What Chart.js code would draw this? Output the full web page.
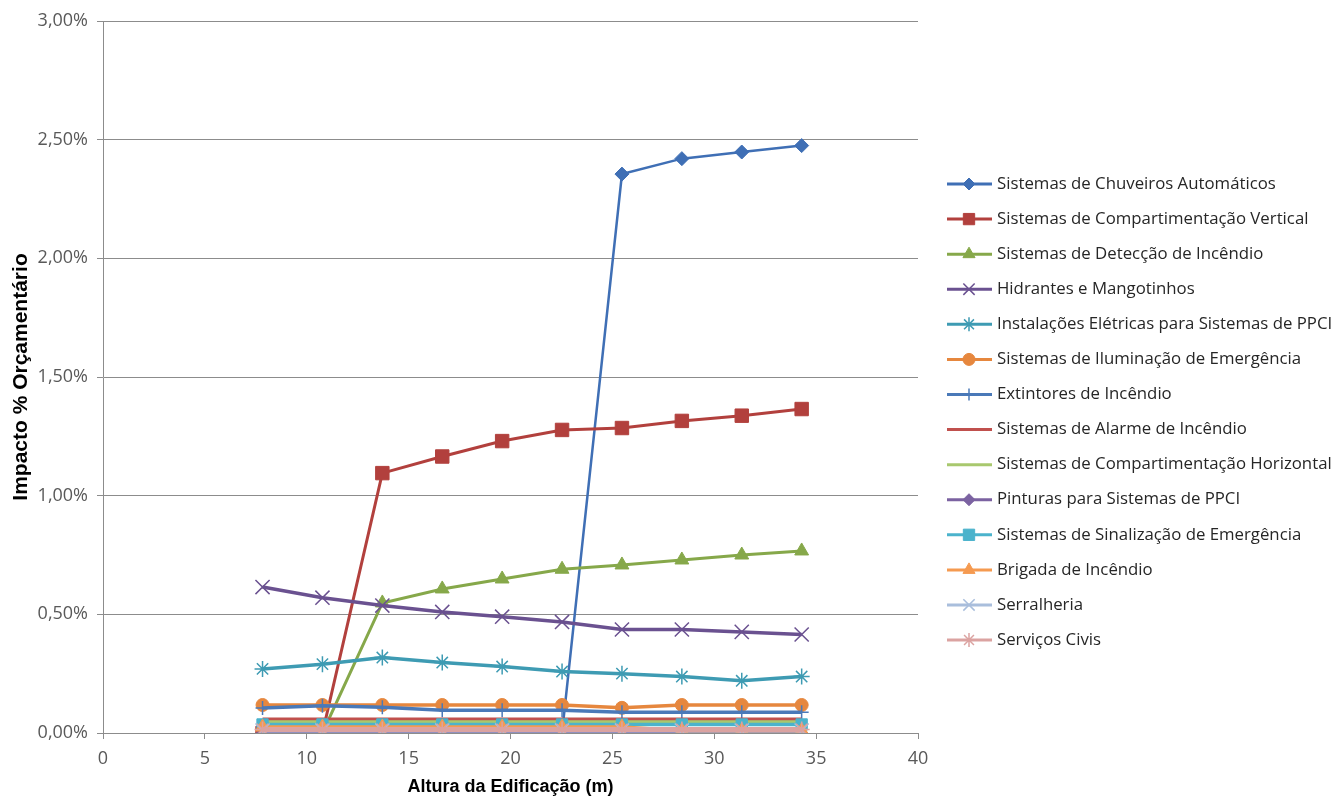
<!DOCTYPE html>
<html>
<head>
<meta charset="utf-8">
<script src="https://cdn.jsdelivr.net/npm/chart.js@4.4.1/dist/chart.umd.min.js"></script>
<style>
  html, body { margin: 0; padding: 0; background: #fff; }
  #wrap { width: 1335px; height: 798px; position: relative; }
</style>
</head>
<body>
<div id="wrap"><canvas id="chart"></canvas></div>
<script>
// Building height (m)
const alturas = [7.83, 10.77, 13.71, 16.65, 19.59, 22.53, 25.47, 28.41, 31.35, 34.29];

// Budget impact (%) per system
const chuveiros      = [0, 0, 0, 0, 0, 0, 2.355, 2.42, 2.448, 2.475];
const compVertical   = [0, 0, 1.095, 1.165, 1.23, 1.277, 1.285, 1.315, 1.337, 1.365];
const deteccao       = [0, 0, 0.548, 0.607, 0.649, 0.69, 0.708, 0.729, 0.75, 0.767];
const hidrantes      = [0.615, 0.57, 0.537, 0.51, 0.49, 0.468, 0.436, 0.436, 0.426, 0.415];
const instEletricas  = [0.27, 0.29, 0.318, 0.297, 0.28, 0.259, 0.25, 0.238, 0.22, 0.238];
const iluminacao     = [0.118, 0.118, 0.118, 0.118, 0.118, 0.118, 0.106, 0.118, 0.118, 0.118];
const extintores     = [0.105, 0.115, 0.108, 0.096, 0.096, 0.096, 0.087, 0.087, 0.087, 0.087];
const alarme         = [0.058, 0.058, 0.058, 0.058, 0.058, 0.058, 0.058, 0.058, 0.058, 0.058];
const compHorizontal = [0.046, 0.046, 0.046, 0.046, 0.046, 0.046, 0.046, 0.046, 0.046, 0.046];
const pinturas       = [0, 0, 0, 0, 0, 0, 0, 0, 0, 0];
const sinalizacao    = [0.036, 0.036, 0.036, 0.036, 0.036, 0.036, 0.036, 0.036, 0.036, 0.036];
const brigada        = [0.025, 0.025, 0.025, 0.025, 0.025, 0.025, 0.025, 0.01, 0.01, 0.01];
const serralheria    = [0.01, 0.01, 0.01, 0.01, 0.01, 0.01, 0.01, 0.01, 0.01, 0.01];
const servicosCivis  = [0.015, 0.015, 0.015, 0.015, 0.015, 0.015, 0.015, 0.015, 0.015, 0.015];

const seriesNames = [
  'Sistemas de Chuveiros Automáticos',
  'Sistemas de Compartimentação Vertical',
  'Sistemas de Detecção de Incêndio',
  'Hidrantes e Mangotinhos',
  'Instalações Elétricas para Sistemas de PPCI',
  'Sistemas de Iluminação de Emergência',
  'Extintores de Incêndio',
  'Sistemas de Alarme de Incêndio',
  'Sistemas de Compartimentação Horizontal',
  'Pinturas para Sistemas de PPCI',
  'Sistemas de Sinalização de Emergência',
  'Brigada de Incêndio',
  'Serralheria',
  'Serviços Civis'
];
const seriesValues = [chuveiros, compVertical, deteccao, hidrantes, instEletricas, iluminacao,
  extintores, alarme, compHorizontal, pinturas, sinalizacao, brigada, serralheria, servicosCivis];

// Excel-like look for each series (legend radius kept smaller)
const styles = [
  { color: '#3f6fb5', point: 'rectRot',  radius: 7,   legR: 6, line: 2.5 },
  { color: '#b2403d', point: 'rect',     radius: 9.5, legR: 8, line: 3 },
  { color: '#86a84a', point: 'triangle', radius: 8,   legR: 7, line: 3 },
  { color: '#6a5190', point: 'crossRot', radius: 10,  legR: 8, line: 3.5 },
  { color: '#3e9bb3', point: 'star',     radius: 8,   legR: 7, line: 3.5 },
  { color: '#e6873e', point: 'circle',   radius: 6.5, legR: 6, line: 3.5 },
  { color: '#4a79b8', point: 'cross',    radius: 7,   legR: 6, line: 3.5 },
  { color: '#c0504d', point: false,      radius: 0,   legR: 0, line: 3.5 },
  { color: '#a8c86e', point: false,      radius: 0,   legR: 0, line: 3.5 },
  { color: '#7b62a1', point: 'rectRot',  radius: 6,   legR: 6, line: 3.5 },
  { color: '#4bb3cc', point: 'rect',     radius: 8,   legR: 8, line: 3.5 },
  { color: '#f59a50', point: 'triangle', radius: 8,   legR: 7, line: 3.5 },
  { color: '#a9bedc', point: 'crossRot', radius: 10,  legR: 8, line: 3.5 },
  { color: '#dba3a1', point: 'star',     radius: 8,   legR: 7, line: 5 }
];

const datasets = seriesNames.map((name, i) => {
  const s = styles[i];
  return {
    label: name,
    data: alturas.map((x, j) => ({ x: x, y: seriesValues[i][j] })),
    borderColor: s.color,
    backgroundColor: s.color,
    borderWidth: s.line,
    pointStyle: s.point,
    pointRadius: s.radius,
    pointBorderWidth: (s.point === 'crossRot' || s.point === 'star' || s.point === 'cross') ? 1.5 : 1,
    pointBackgroundColor: s.color,
    pointBorderColor: s.color,
    showLine: true,
    tension: 0,
    // later series on top, like Excel
    order: seriesNames.length - i
  };
});

// Legend with line + marker, drawn on the canvas
const sideLegend = {
  id: 'sideLegend',
  afterDraw(chart) {
    const ctx = chart.ctx;
    const x0 = 947, y0 = 184, gap = 35.08;
    ctx.save();
    datasets.forEach((ds, i) => {
      const s = styles[i];
      const y = y0 + i * gap;
      ctx.strokeStyle = s.color;
      ctx.lineWidth = 3;
      ctx.beginPath();
      ctx.moveTo(x0, y);
      ctx.lineTo(x0 + 45, y);
      ctx.stroke();
      if (s.point) {
        ctx.fillStyle = s.color;
        ctx.lineWidth = ds.pointBorderWidth;
        Chart.helpers.drawPoint(ctx, { pointStyle: s.point, radius: s.legR, borderWidth: ds.pointBorderWidth, rotation: 0 }, x0 + 22, y);
      }
      ctx.fillStyle = '#262626';
      ctx.font = '16.8px "Open Sans"';
      ctx.textBaseline = 'middle';
      ctx.fillText(ds.label, x0 + 50, y);
    });
    ctx.restore();
  }
};

const tickFont = { family: '"Open Sans"', size: 18 };

new Chart(document.getElementById('chart'), {
  type: 'scatter',
  data: { datasets: datasets },
  options: {
    responsive: true,
    maintainAspectRatio: false,
    animation: false,
    layout: { padding: { left: 0, right: 417, top: 21, bottom: 0 } },
    plugins: {
      legend: { display: false },
      tooltip: { enabled: false }
    },
    scales: {
      x: {
        type: 'linear',
        min: 0,
        max: 40,
        ticks: { stepSize: 5, color: '#595959', font: tickFont, padding: 9 },
        grid: { drawOnChartArea: false, drawTicks: true, tickLength: 6, color: '#8c8c8c' },
        border: { color: '#8c8c8c' },
        title: {
          display: true,
          text: 'Altura da Edificação (m)',
          color: '#000',
          font: { family: '"Liberation Sans"', size: 18, weight: 'bold' },
          padding: { top: 0, bottom: 0 }
        },
        afterFit(scale) { scale.height = 65; }
      },
      y: {
        type: 'linear',
        min: 0,
        max: 3,
        ticks: {
          stepSize: 0.5,
          color: '#595959',
          font: tickFont,
          padding: 9,
          callback: (v) => v.toFixed(2).replace('.', ',') + '%'
        },
        grid: { color: '#8c8c8c', tickLength: 6 },
        border: { color: '#8c8c8c' },
        title: {
          display: true,
          text: 'Impacto % Orçamentário',
          color: '#000',
          font: { family: '"Liberation Sans"', size: 21, weight: 'bold' },
          padding: { top: 9, bottom: 0 }
        },
        afterFit(scale) { scale.width = 103; }
      }
    }
  },
  plugins: [sideLegend]
});
</script>
</body>
</html>
